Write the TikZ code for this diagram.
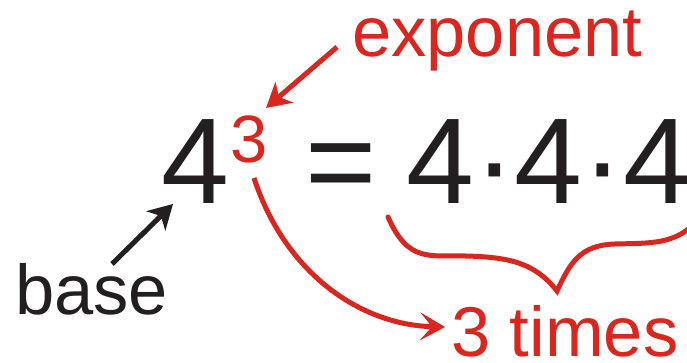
\documentclass[tikz,border=0pt]{standalone}
\usepackage{fontspec}
\setmainfont{Liberation Sans}
\definecolor{powred}{RGB}{218,38,30}
\definecolor{inkdark}{RGB}{35,31,32}
\usepackage{tikz}
\usetikzlibrary{arrows.meta, positioning}

\begin{document}
\begin{tikzpicture}[x=1pt,y=1pt,
        bigtxt/.style={anchor=base west,inner sep=0pt,text=inkdark,
                       font=\fontsize{122}{122}\selectfont},
        redtxt/.style={anchor=base west,inner sep=0pt,text=powred,
                       font=\fontsize{70.5}{70.5}\selectfont},
        redline/.style={draw=powred,line width=5pt},
        pointer/.style={-{Stealth[length=24pt,width=27pt,inset=7pt]}}]
      \useasboundingbox (0,0) rectangle (687,363);
      % the power and the product
      \node[bigtxt] (four) at (161,159) {4};
      \node[anchor=base west,inner sep=0pt,text=powred,
            font=\fontsize{67}{67}\selectfont] (pow) at (230,200) {3};
      \node[bigtxt] (eq) at (305,159) {=};
      \node[bigtxt] (prod) at (406,159) {4\textperiodcentered 4\textperiodcentered 4};
      % labels
      \node[redtxt] (expo) at (352,306) {exponent};
      \node[redtxt,text=inkdark] (basetxt) at (15,48) {base};
      \node[redtxt] (times) at (451,6) {3 times};
      % arrow ends
      \coordinate (expotail) at (337,316);
      \coordinate (expotip) at (266,255);
      \coordinate (basetail) at (112,99);
      \coordinate (basetip) at (173,159);
      \coordinate (curvestart) at (254,185);
      \coordinate (curvetip) at (445,36);
      \draw[redline,pointer] (expotail) -- (expotip);
      \draw[pointer,draw=inkdark,fill=inkdark,line width=5pt] (basetail) -- (basetip);
      \draw[redline,-{Stealth[length=25pt,width=28pt,inset=12pt]}]
        (curvestart) .. controls (285,90) and (360,38) .. (curvetip);
      % the brace under 4.4.4
      \draw[redline,line cap=round]
        (388,146) .. controls (408,100) and (430,108) .. (465,107)
        .. controls (510,106) and (535,100) .. (557,72)
        .. controls (570,100) and (580,118) .. (615,119)
        .. controls (650,120) and (675,118) .. (697,142);
    \end{tikzpicture}
\end{document}
